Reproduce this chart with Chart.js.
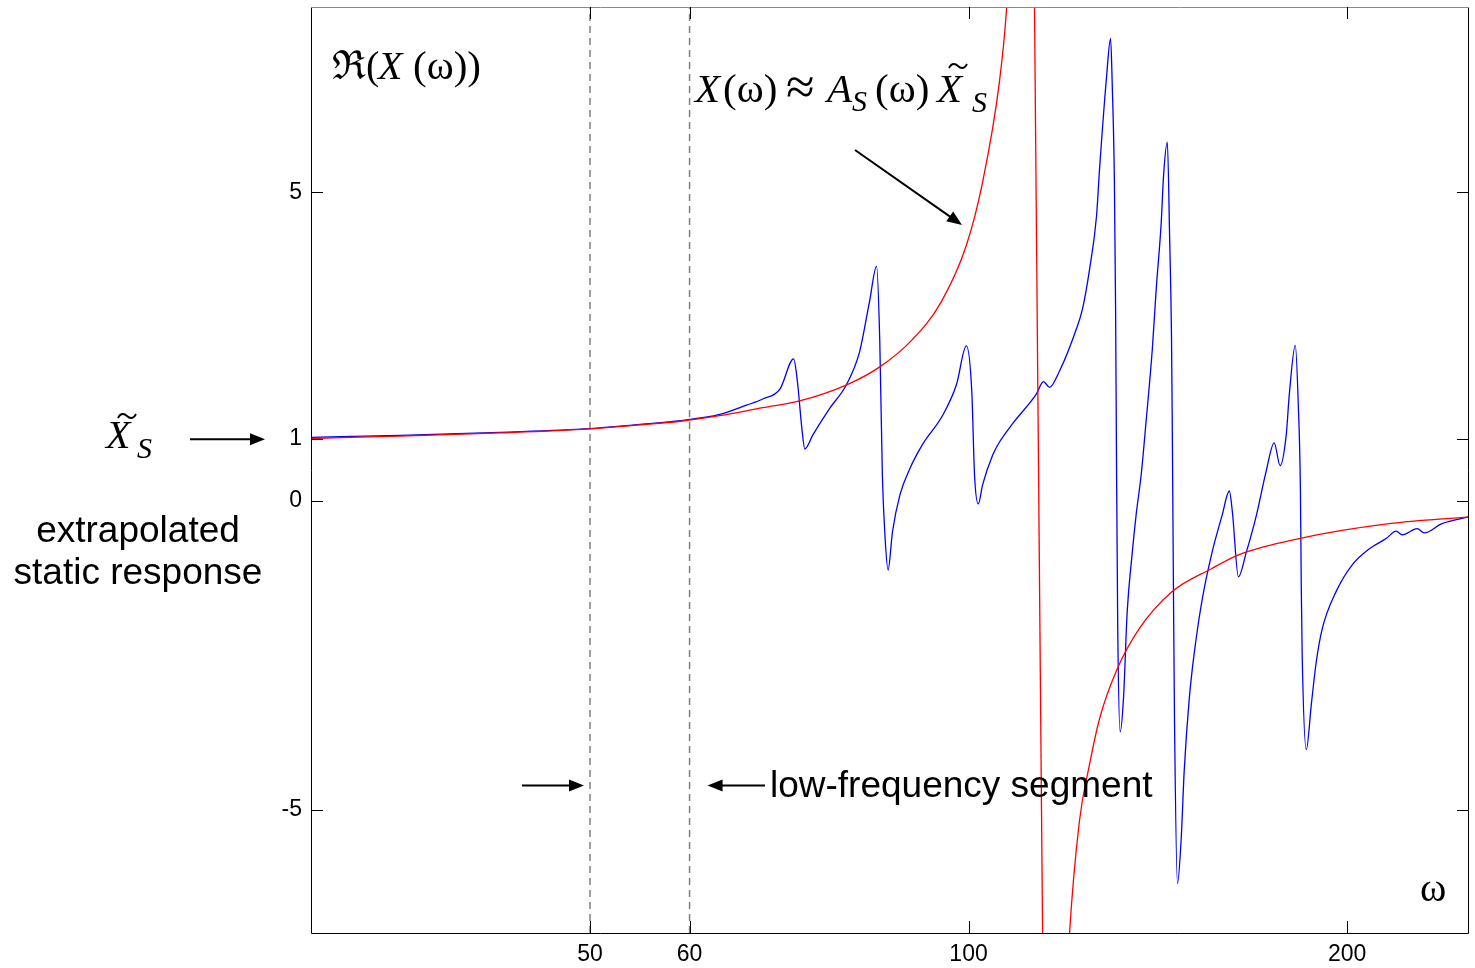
<!DOCTYPE html>
<html>
<head>
<meta charset="utf-8">
<script src="https://cdn.jsdelivr.net/npm/chart.js@4.4.1/dist/chart.umd.min.js"></script>
<style>
  html, body { margin: 0; padding: 0; background: #fff; }
  canvas { display: block; }
</style>
</head>
<body>
<canvas id="responseChart" width="1475" height="968"></canvas>
<script>
// frequencies (omega) and real part of the measured response X(omega)
var blueOmega = [30, 35.3, 42.4, 50, 54.8, 59, 63.4, 66.6, 68.6, 70.8, 72.6, 73.1, 73.7, 74.1, 75.2, 77.5, 80.0, 81.9, 83.4, 84.5,
  85.0, 85.4, 85.8, 86.3, 87.0, 88.2, 89.8, 91.9, 95.4, 97.8, 99.6, 100.6, 101.1, 101.8, 102.6, 104.5, 105.8, 108.4,
  113.2, 114.7, 116.0, 118.1, 121.8, 123.2, 124.8, 126.4, 127.1, 128.7, 129.7, 130.1, 130.6, 130.9, 131.1, 131.4,
  132.0, 132.8, 133.7, 134.9, 135.9, 137.2, 138.4, 140.0, 141.0, 142.3, 142.9, 143.9, 144.5, 145.0, 145.2, 145.5,
  145.8, 146.6, 147.6, 148.4, 149.8, 151.7, 153.4, 156.2, 159.1, 161.2, 162.1, 163.9, 166.3, 169.4, 172.4, 175.0,
  176.9, 178.9, 179.9, 181.9, 182.9, 183.6, 183.9, 184.2, 185.6, 187.3, 189.0, 191.1, 196.0, 201.8, 208.2, 214.8,
  218.8, 221.2, 227.4, 230.3, 237.9, 250];
var blueValue = [1.03, 1.06, 1.11, 1.17, 1.24, 1.30, 1.40, 1.55, 1.65, 1.81, 2.30, 1.93, 1.17, 0.84, 1.07, 1.49, 1.89, 2.41, 3.22, 3.80,
  2.57, 0.42, -0.55, -1.12, -0.50, 0.10, 0.52, 0.91, 1.39, 1.88, 2.51, 1.76, 0.42, -0.05, 0.26, 0.74, 0.95, 1.25,
  1.73, 1.93, 1.84, 2.10, 2.78, 3.11, 3.75, 4.61, 5.37, 6.83, 7.49, 6.72, 5.21, 3.06, 0.79, -2.01,
  -3.74, -3.20, -1.80, -0.87, -0.23, 0.44, 1.28, 2.46, 3.43, 4.51, 5.26, 5.81, 4.29, 2.67, 1.28, -1.26,
  -3.53, -6.20, -5.47, -4.39, -3.20, -2.23, -1.59, -0.83, -0.23, 0.16, -0.18, -1.23, -0.83, -0.23, 0.47, 0.94,
  0.57, 1.07, 1.72, 2.52, 1.55, 0.19, -1.42, -2.49, -4.03, -3.30, -2.61, -2.07, -1.47, -1.04, -0.78, -0.61,
  -0.49, -0.55, -0.45, -0.52, -0.37, -0.26];

// single-mode approximation A_S(omega) * X_S, split at its pole (omega ~ 114)
var redLeftOmega = [30, 35.3, 42.4, 50, 54.8, 59, 63.4, 68.6, 73.4, 80, 85, 90.3, 95.1, 99.6, 102.6, 105.8, 107.2, 108.4,
  109.8, 111.5];
var redLeftValue = [1.01, 1.05, 1.10, 1.165, 1.23, 1.29, 1.38, 1.51, 1.62, 1.88, 2.17, 2.62, 3.22, 4.14, 5.16, 6.78, 7.96, 9.8,
  13, 20];
var redRightOmega = [116.0, 118.1, 120.3, 122.5, 124.8, 127.1, 131.3, 136.7, 145.2, 156.0, 164.1, 183.2, 216.0, 250];
var redRightValue = [-20, -10.5, -7.02, -5.19, -4.27, -3.53, -2.72, -2.07, -1.47, -1.10, -0.87, -0.61, -0.37, -0.26];

var segmentBounds = [50, 60];
var xTicks = [50, 60, 100, 200];
var yTicks = [-5, 0, 1, 5];
var xRange = [30, 250];
var yRange = [-7, 8];

var serif = '"Liberation Serif", "Times New Roman", "DejaVu Serif", serif';
var sans = '"Liberation Sans", Arial, Helvetica, sans-serif';

function toPoints(xs, ys) {
  return xs.map(function (x, i) { return { x: x, y: ys[i] }; });
}

function vline(x) {
  return [{ x: x, y: yRange[0] }, { x: x, y: yRange[1] }];
}

// the straight jump across the pole, from the last left sample to the first right one
var redJump = [
  { x: redLeftOmega[redLeftOmega.length - 1], y: redLeftValue[redLeftValue.length - 1] },
  { x: redRightOmega[0], y: redRightValue[0] }
];

function arrow(ctx, x1, y1, x2, y2) {
  var ang = Math.atan2(y2 - y1, x2 - x1);
  var len = 15, half = 6;
  ctx.beginPath();
  ctx.moveTo(x1, y1);
  ctx.lineTo(x2 - Math.cos(ang) * len * 0.8, y2 - Math.sin(ang) * len * 0.8);
  ctx.lineWidth = 2;
  ctx.strokeStyle = '#000';
  ctx.stroke();
  ctx.beginPath();
  ctx.moveTo(x2, y2);
  ctx.lineTo(x2 - Math.cos(ang) * len - Math.sin(ang) * half, y2 - Math.sin(ang) * len + Math.cos(ang) * half);
  ctx.lineTo(x2 - Math.cos(ang) * len + Math.sin(ang) * half, y2 - Math.sin(ang) * len - Math.cos(ang) * half);
  ctx.closePath();
  ctx.fillStyle = '#000';
  ctx.fill();
}

function tilde(ctx, cx, cy) {
  ctx.beginPath();
  ctx.moveTo(cx - 9, cy + 2);
  ctx.bezierCurveTo(cx - 6, cy - 4, cx - 2, cy - 2, cx, cy);
  ctx.bezierCurveTo(cx + 2, cy + 2, cx + 6, cy + 4, cx + 9, cy - 2);
  ctx.lineWidth = 1.8;
  ctx.strokeStyle = '#000';
  ctx.stroke();
}

function txt(ctx, s, x, y, font) {
  ctx.font = font;
  ctx.fillText(s, x, y);
}

// box, mirrored inward ticks and all the annotations
var decorations = {
  id: 'decorations',
  afterDraw: function (chart) {
    var ctx = chart.ctx;
    var a = chart.chartArea;
    var xs = chart.scales.x, ys = chart.scales.y;
    var tl = 12;
    ctx.save();

    ctx.lineWidth = 1;
    ctx.strokeStyle = '#000';
    ctx.beginPath();
    ctx.moveTo(a.left + 0.5, a.top);
    ctx.lineTo(a.left + 0.5, a.bottom + 0.5);
    ctx.lineTo(a.right - 0.5, a.bottom + 0.5);
    ctx.lineTo(a.right - 0.5, a.top);
    ctx.stroke();
    ctx.strokeStyle = '#8a8a8a';
    ctx.beginPath();
    ctx.moveTo(a.left, a.top + 0.5);
    ctx.lineTo(a.right, a.top + 0.5);
    ctx.stroke();

    ctx.strokeStyle = '#000';
    ctx.beginPath();
    xTicks.forEach(function (v) {
      var px = Math.round(xs.getPixelForValue(v)) + 0.5;
      ctx.moveTo(px, a.bottom); ctx.lineTo(px, a.bottom - tl);
      ctx.moveTo(px, a.top); ctx.lineTo(px, a.top + tl);
    });
    yTicks.forEach(function (v) {
      var py = Math.round(ys.getPixelForValue(v)) + 0.5;
      ctx.moveTo(a.left, py); ctx.lineTo(a.left + tl, py);
      ctx.moveTo(a.right, py); ctx.lineTo(a.right - tl, py);
    });
    ctx.stroke();

    ctx.fillStyle = '#000';
    ctx.textBaseline = 'alphabetic';
    ctx.textAlign = 'left';

    // Re(X(omega)) label
    txt(ctx, '\u211C', 332, 79, '40px ' + serif);
    txt(ctx, '(', 366, 79, '40px ' + serif);
    txt(ctx, 'X', 378, 79, 'italic 40px ' + serif);
    txt(ctx, '(\u03C9))', 413, 79, '41px ' + serif);

    // X(omega) ~ A_S(omega) X_S
    txt(ctx, 'X', 695, 102, 'italic 41px ' + serif);
    txt(ctx, '(\u03C9)', 723, 102, '41px ' + serif);
    txt(ctx, '\u2248', 786, 104, '52px ' + serif);
    txt(ctx, 'A', 827, 102, 'italic 41px ' + serif);
    txt(ctx, 'S', 852, 111, 'italic 30px ' + serif);
    txt(ctx, '(\u03C9)', 875, 102, '41px ' + serif);
    txt(ctx, 'X', 937, 102, 'italic 41px ' + serif);
    tilde(ctx, 958, 66);
    txt(ctx, 'S', 972, 112, 'italic 30px ' + serif);
    arrow(ctx, 855, 150, 962, 225);

    // omega at the end of the x axis
    txt(ctx, '\u03C9', 1420, 901, '40px ' + serif);

    // low-frequency segment
    var yArr = ys.getPixelForValue(-4.61);
    arrow(ctx, 522, yArr, xs.getPixelForValue(segmentBounds[0]) - 6, yArr);
    arrow(ctx, 765, yArr, xs.getPixelForValue(segmentBounds[1]) + 18, yArr);
    txt(ctx, 'low-frequency segment', 770, 797, '37px ' + sans);

    // extrapolated static response, left of the axis
    var y1 = ys.getPixelForValue(1);
    txt(ctx, 'X', 106, 448, 'italic 40px ' + serif);
    tilde(ctx, 127, 416);
    txt(ctx, 'S', 137, 458, 'italic 30px ' + serif);
    arrow(ctx, 190, y1, 265, y1);
    ctx.textAlign = 'center';
    txt(ctx, 'extrapolated', 138, 542, '37px ' + sans);
    txt(ctx, 'static response', 138, 584, '37px ' + sans);

    ctx.restore();
  }
};

var lineStyle = { borderWidth: 1.3, pointRadius: 0, fill: false };

var ctx = document.getElementById('responseChart').getContext('2d');
var responseChart = new Chart(ctx, {
  type: 'line',
  data: {
    datasets: [
      Object.assign({ label: 'A_S X_S (below pole)', data: toPoints(redLeftOmega, redLeftValue), borderColor: '#ff0000', cubicInterpolationMode: 'monotone' }, lineStyle),
      Object.assign({ label: 'A_S X_S (above pole)', data: toPoints(redRightOmega, redRightValue), borderColor: '#ff0000', cubicInterpolationMode: 'monotone' }, lineStyle),
      Object.assign({ label: 'pole jump', data: redJump, borderColor: '#ff0000' }, lineStyle),
      Object.assign({ label: 'Re X', data: toPoints(blueOmega, blueValue), borderColor: '#0000ff', cubicInterpolationMode: 'monotone' }, lineStyle),
      { label: 'lower bound', data: vline(segmentBounds[0]), borderColor: '#808080', borderWidth: 1.5, borderDash: [7, 5], pointRadius: 0, fill: false },
      { label: 'upper bound', data: vline(segmentBounds[1]), borderColor: '#808080', borderWidth: 1.5, borderDash: [7, 5], pointRadius: 0, fill: false }
    ]
  },
  options: {
    responsive: false,
    devicePixelRatio: 1,
    animation: false,
    events: [],
    layout: { padding: { top: 7, right: 6, left: 0, bottom: 0 } },
    plugins: {
      legend: { display: false },
      tooltip: { enabled: false }
    },
    scales: {
      x: {
        type: 'logarithmic',
        min: xRange[0],
        max: xRange[1],
        grid: { display: false },
        border: { display: false },
        afterBuildTicks: function (s) { s.ticks = xTicks.map(function (v) { return { value: v }; }); },
        afterFit: function (s) { s.height = 35; s.paddingLeft = 0; s.paddingRight = 0; },
        ticks: {
          autoSkip: false,
          maxRotation: 0,
          padding: 0,
          color: '#000',
          font: { family: sans, size: 23 },
          callback: function (v) { return String(v); }
        }
      },
      y: {
        type: 'linear',
        min: yRange[0],
        max: yRange[1],
        grid: { display: false },
        border: { display: false },
        afterBuildTicks: function (s) { s.ticks = yTicks.map(function (v) { return { value: v }; }); },
        afterFit: function (s) { s.width = 311; s.paddingTop = 0; s.paddingBottom = 0; },
        ticks: {
          autoSkip: false,
          padding: 1,
          color: '#000',
          font: { family: sans, size: 23 },
          callback: function (v) { return String(v); }
        }
      }
    }
  },
  plugins: [decorations]
});
</script>
</body>
</html>
